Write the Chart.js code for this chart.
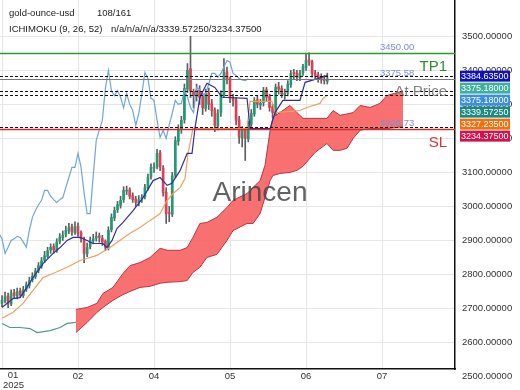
<!DOCTYPE html>
<html><head><meta charset="utf-8">
<script src="https://cdn.jsdelivr.net/npm/chart.js@4.4.1/dist/chart.umd.min.js"></script>
<style>html,body{margin:0;padding:0;background:#fff}#wrap{width:520px;height:390px}</style>
</head><body><div id="wrap"><canvas id="c" width="520" height="390"></canvas></div>
<script>
// ---- data ----
const openP=[2715,2722,2737,2713,2747,2736,2752,2738,2757,2768,2784,2793,2812,2824,2842,2853,2872,2882,2870,2897,2908,2917,2928,2940,2923,2942,2923,2903,2860,2882,2898,2907,2914,2907,2897,2878,2932,2966,2990,3003,3020,3045,3049,3032,3022,3010,3022,3028,3054,3087,3113,3117,3158,3113,3042,2981,2977,3092,3192,3227,3255,3345,3405,3338,3324,3343,3323,3288,3334,3302,3284,3236,3276,3328,3396,3378,3320,3314,3255,3201,3226,3198,3242,3272,3314,3298,3305,3343,3323,3293,3274,3352,3347,3328,3334,3358,3393,3393,3378,3393,3408,3431,3426,3393,3387,3378,3374,3368];
const highP=[2738,2748,2745,2755,2756,2760,2760,2765,2778,2792,2805,2818,2835,2850,2868,2880,2890,2890,2905,2920,2928,2942,2950,2948,2955,2952,2928,2910,2892,2910,2918,2925,2922,2915,2902,2940,2978,2998,3015,3030,3058,3060,3055,3040,3030,3032,3035,3065,3095,3125,3128,3168,3165,3120,3055,3000,3100,3205,3240,3265,3360,3420,3500,3345,3360,3355,3330,3345,3348,3315,3290,3285,3340,3435,3410,3380,3330,3320,3265,3235,3230,3250,3285,3320,3325,3315,3350,3350,3330,3300,3360,3365,3355,3345,3370,3400,3403,3400,3400,3418,3450,3452,3430,3400,3395,3390,3385,3392];
const lowP=[2705,2716,2702,2708,2730,2728,2732,2732,2750,2760,2778,2788,2805,2818,2835,2848,2862,2862,2865,2890,2900,2910,2920,2915,2918,2912,2895,2835,2852,2875,2890,2898,2895,2885,2870,2872,2925,2958,2982,2995,3012,3035,3022,3012,3000,3002,3012,3022,3048,3080,3100,3110,3105,3030,2950,2955,2970,3085,3180,3215,3245,3335,3320,3290,3310,3300,3270,3280,3285,3265,3220,3225,3265,3320,3360,3305,3295,3240,3185,3175,3135,3190,3235,3265,3290,3285,3295,3310,3280,3260,3268,3330,3320,3315,3325,3350,3375,3370,3370,3385,3400,3415,3380,3375,3365,3362,3360,3360];
const closeP=[2724,2735,2715,2745,2738,2750,2740,2755,2770,2782,2795,2810,2826,2840,2855,2870,2880,2872,2895,2910,2915,2930,2938,2925,2940,2921,2905,2862,2880,2900,2905,2912,2909,2895,2880,2930,2968,2988,3005,3018,3047,3047,3030,3020,3012,3020,3026,3056,3085,3115,3115,3156,3115,3040,2979,2979,3090,3194,3225,3253,3347,3400,3340,3326,3341,3321,3290,3332,3300,3282,3238,3274,3330,3394,3376,3318,3312,3253,3203,3224,3200,3240,3274,3312,3300,3303,3341,3321,3291,3276,3350,3345,3330,3332,3360,3391,3391,3380,3391,3410,3429,3424,3391,3385,3376,3372,3370,3375.18];

const tenkanX=[0,3.6,5.9,8.2,10.2,13.5,16.8,19.1,21.4,23.4,25.7,28,29.9,33.2,34.5,36.2,37.8,39.8,43.1,46.4,49.7,52,54.3,55.9,58.6,60.9,62.5,63.5,65.1,67.4,70,72.4,80.6,81.6,88.2,89.8,92.4,98,99.7,107];
const tenkanY=[2703,2729,2732,2762,2791,2832,2862,2879,2900,2909,2909,2900,2891,2891,2879,2900,2935,2953,2988,3026,3076,3085,3062,3068,3106,3156,3156,3232,3321,3362,3350,3321,3318,3229,3229,3276,3312,3312,3365,3384.635];

const kijunX=[0,3.6,6.9,10.2,13.5,16.8,21.4,25.7,31.2,35.5,37.8,42.1,45.4,48.7,52,54.3,56.3,58.6,60.2,61.2,62.8,80.6,81.6,88.8,89.8,98,100.3,104.6,105.6,107];
const kijunY=[2671,2688,2715,2753,2791,2803,2821,2841,2856,2879,2894,2921,2938,2959,2979,3018,3038,3056,3082,3156,3229,3229,3309,3309,3276,3282,3291,3303,3318,3327.235];

const spanX=[0,2.6,5.9,9.2,11.5,15.8,19.1,21.4,24.3];
const spanY=[2656,2644,2644,2641,2629,2635,2644,2656,2659];

const cloudX=[24.3,28,31.2,33.2,36.5,39.8,42.1,45.4,48.7,52,54.3,58.6,60.9,62.8,65.1,67.4,70.7,74,76,80.6,82.6,84.9,86.5,88.2,89.1,91.4,94.7,97,99,103,106.9,108.9,111.2,113.5,115.5,117.8,121.1,124.3,126.6,131.9];
const cloudUpper=[2697,2703,2715,2744,2762,2803,2826,2835,2850,2877,2871,2871,2879,2909,2950,2953,2968,2997,3018,3038,3056,3076,3121,3224,3262,3276,3297,3276,3259,3259,3259,3282,3268,3272,3276,3297,3291,3303,3326,3339.5725];
const cloudLower=[2629,2659,2688,2703,2724,2741,2750,2762,2765,2774,2777,2779,2782,2806,2821,2850,2859,2900,2929,2950,2950,2979,3026,3076,3091,3097,3100,3106,3118,3159,3185,3165,3165,3171,3200,3224,3229,3229,3229,3234.375];

const chikouShift=26;
const levelValues=[3450,3384.635,3375.58,3339.5725,3327.235,3234.375,3226.73];
const levelLabelValues=[3450,3375.58,3226.73];
const boxValues=[3384.635,3375.18,3375.18,3339.5725,3327.235,3234.375];

const xTickBars=[0,25,50,75,100,125];
const xTickLabels=['01','02','04','05','06','07'];
const yTicks=[2500,2600,2700,2800,2900,3000,3100,3200,3300,3400,3500];

const headerName='gold-ounce-usd';
const headerCount='108/161';
const headerInd='ICHIMOKU (9, 26, 52)';
const headerVals='n/a/n/a/n/a/3339.57250/3234.37500';

// ---- styles ----
const FONT='"Liberation Sans", Arial, sans-serif';
const GREEN='#1f9c74', RED='#e23d52';
const levelStyle=[
  {c:'#2f9a2f',w:1.5,d:[]},
  {c:'#111',w:1.1,d:[3,2]},
  {c:'#777',w:1.1,d:[]},
  {c:'#111',w:1.1,d:[3,2]},
  {c:'#111',w:1.1,d:[3,2]},
  {c:'#111',w:1.1,d:[3,2]},
  {c:'#d42a2a',w:1.3,d:[]}
];
const boxColors=['#1212b4','#3fb09c','#3a8fe3','#1a8a80','#f07010','#d1124d'];

const pts=(xs,ys)=>xs.map((x,k)=>({x:x,y:ys[k]}));

const overlay={
  id:'overlay',
  afterDatasetsDraw(chart){
    const {ctx,chartArea:a,scales:{y}}=chart;
    ctx.save();
    ctx.beginPath();ctx.rect(a.left,a.top,a.right-a.left,a.bottom-a.top);ctx.clip();
    ctx.font='28px '+FONT;ctx.fillStyle='rgba(70,70,70,0.85)';ctx.textAlign='center';ctx.textBaseline='middle';
    ctx.fillText('Arincen',260,193);
    levelValues.forEach((v,k)=>{
      const st=levelStyle[k];
      const py=Math.round(y.getPixelForValue(v))+0.5;
      ctx.strokeStyle=st.c;ctx.lineWidth=st.w;ctx.setLineDash(st.d);
      ctx.beginPath();ctx.moveTo(a.left,py);ctx.lineTo(a.right,py);ctx.stroke();
    });
    ctx.setLineDash([]);
    ctx.font='9.5px '+FONT;ctx.fillStyle='#7b8cd8';ctx.textAlign='left';ctx.textBaseline='alphabetic';
    levelLabelValues.forEach(v=>{ctx.fillText(v.toFixed(2),380,y.getPixelForValue(v)-3);});
    ctx.font='15px '+FONT;ctx.textAlign='right';ctx.textBaseline='middle';
    ctx.fillStyle='#2f8f2f';ctx.fillText('TP1',447,y.getPixelForValue(3450)+13);
    ctx.fillStyle='rgba(120,120,120,0.9)';ctx.fillText('At Price',447,y.getPixelForValue(3339.5725)+1);
    ctx.fillStyle='#d33';ctx.fillText('SL',447,y.getPixelForValue(3226.73)+14);
    ctx.restore();
  },
  afterDraw(chart){
    const {ctx,scales:{y}}=chart;
    ctx.save();
    ctx.font='9.5px '+FONT;ctx.fillStyle='#222';ctx.textAlign='left';ctx.textBaseline='middle';
    ctx.fillText(headerName,9,13);ctx.fillText(headerCount,97,13);
    ctx.fillText(headerInd,9,29);ctx.fillText(headerVals,111,29);
    ctx.fillStyle='#333';ctx.textAlign='center';
    ctx.fillText(xTickLabels[0],13,375);
    ctx.textAlign='left';ctx.fillText('2025',3,385);
    const top=y.getPixelForValue(boxValues[0])-5;
    ctx.font='9px '+FONT;
    boxValues.forEach((v,k)=>{
      const by=top+k*12;
      ctx.fillStyle=boxColors[k];ctx.fillRect(460,by,50,11);
      ctx.fillStyle='#fff';ctx.textAlign='left';ctx.textBaseline='middle';
      ctx.fillText(v.toFixed(5),461,by+6);
    });
    ctx.restore();
  }
};

const bodyColors=closeP.map((c,i)=>c>=openP[i]?GREEN:RED);

new Chart(document.getElementById('c'),{
  type:'line',
  data:{datasets:[
    {type:'bar',label:'wick',data:closeP.map((c,i)=>({x:i,y:[lowP[i],highP[i]]})),backgroundColor:'#5e5e5e',barThickness:1,grouped:false,order:5},
    {type:'bar',label:'body',data:closeP.map((c,i)=>({x:i,y:[Math.min(openP[i],c),Math.max(openP[i],c)]})),backgroundColor:bodyColors,barThickness:2,grouped:false,minBarLength:1,order:4},
    {label:'spanA',data:pts(cloudX,cloudUpper),borderColor:'#b83545',borderWidth:1,pointRadius:0,fill:false,tension:0,order:8},
    {label:'spanB',data:pts(cloudX,cloudLower),borderColor:'#b83545',borderWidth:1,pointRadius:0,fill:'-1',backgroundColor:'rgba(247,100,100,0.92)',tension:0,order:9},
    {label:'span',data:pts(spanX,spanY),borderColor:'#4a9e8e',borderWidth:1.2,pointRadius:0,fill:false,order:3},
    {label:'chikou',data:closeP.map((c,i)=>({x:i-chikouShift,y:c})),borderColor:'#6fa6dc',borderWidth:1.2,pointRadius:0,fill:false,order:2},
    {label:'kijun',data:pts(kijunX,kijunY),borderColor:'#eea060',borderWidth:1.2,pointRadius:0,fill:false,order:2},
    {label:'tenkan',data:pts(tenkanX,tenkanY),borderColor:'#2f2f9f',borderWidth:1.2,pointRadius:0,fill:false,order:1}
  ]},
  options:{
    responsive:false,animation:false,devicePixelRatio:1,
    layout:{padding:0},
    plugins:{legend:{display:false},tooltip:{enabled:false}},
    scales:{
      x:{type:'linear',position:'bottom',min:-0.66,max:149,offset:false,
        grid:{color:'#e6e6e6',offset:false,drawTicks:false},
        border:{display:true,color:'#111',width:1.5},
        afterBuildTicks:s=>{s.ticks=xTickBars.map(v=>({value:v}));},
        afterFit:s=>{s.height=21;s.paddingLeft=0;s.paddingRight=0;},
        ticks:{autoSkip:false,maxRotation:0,padding:2,color:'#333',font:{size:9.5,family:FONT},
          callback:(v)=>{const k=xTickBars.indexOf(v);return k>0?xTickLabels[k]:'';}}
      },
      y:{type:'linear',position:'right',min:2522,max:3607,beginAtZero:false,
        grid:{color:c=>(c.tick&&c.tick.value<2520)?'rgba(0,0,0,0)':'#e6e6e6',drawTicks:false},
        border:{display:true,color:'#111',width:1.5},
        afterBuildTicks:s=>{s.ticks=yTicks.map(v=>({value:v}));},
        afterFit:s=>{s.width=65;s.paddingTop=0;s.paddingBottom=0;},
        ticks:{autoSkip:false,padding:7,crossAlign:'near',color:'#333',font:{size:9.5,family:FONT},
          callback:v=>Number(v).toFixed(5)}
      }
    }
  },
  plugins:[overlay]
});
</script></body></html>
